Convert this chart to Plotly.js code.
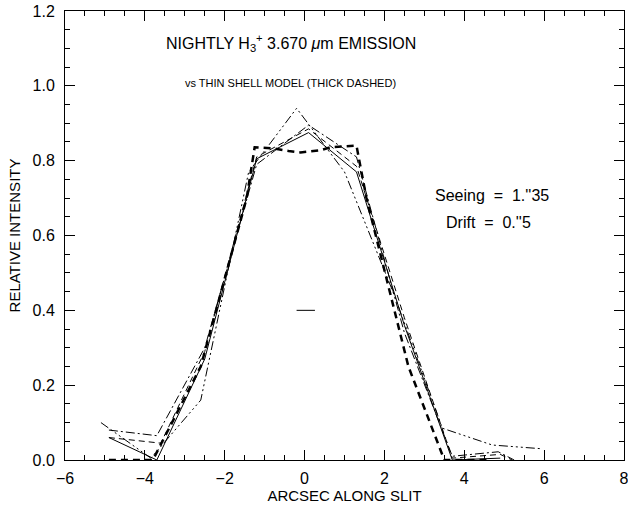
<!DOCTYPE html>
<html>
<head>
<meta charset="utf-8">
<script src="https://cdn.plot.ly/plotly-3.0.1.min.js"></script>
<style>html,body{margin:0;padding:0;background:#fff}#chart{width:628px;height:506px}</style>
</head>
<body>
<div id="chart"></div>
<script>
// Data
var xMain = [-4.9, -3.7, -2.5, -1.2, 0.1, 1.3, 2.5, 3.7, 4.9];
var solidY = [0.06, 0.0, 0.27, 0.805, 0.875, 0.77, 0.36, 0.0, 0.005];
var xDashed = [-4.9, -3.6, -2.5, -1.2, 0.1, 1.3, 2.5, 3.7, 4.9, 5.2];
var dashedY = [0.06, 0.045, 0.29, 0.81, 0.885, 0.785, 0.38, 0.005, 0.015, 0.0];
var xDashDot = [-4.9, -3.7, -2.5, -1.2, 0.1, 1.3, 2.5, 3.7, 4.85, 5.25];
var dashDotY = [0.08, 0.065, 0.30, 0.79, 0.895, 0.81, 0.34, 0.01, 0.022, 0.0];
var xDash3Dot = [-5.1, -3.85, -2.6, -1.4, -0.2, 1.0, 2.25, 3.45, 4.7, 5.95];
var dash3DotY = [0.10, 0.005, 0.16, 0.77, 0.94, 0.77, 0.44, 0.085, 0.04, 0.03];
var xModel = [-4.9, -3.8, -2.6, -1.45, -1.25, -0.8, -0.4, -0.1, 0.4, 0.65, 1.3, 1.55, 2.6, 3.5, 4.6];
var modelY = [0.0, 0.0, 0.25, 0.70, 0.836, 0.833, 0.826, 0.822, 0.828, 0.836, 0.84, 0.70, 0.25, 0.0, 0.0];
var barX = [-0.2, 0.26];
var barY = [0.40, 0.40];
var xTickVals = [-6, -4, -2, 0, 2, 4, 6, 8];
var yTickVals = [0.0, 0.2, 0.4, 0.6, 0.8, 1.0, 1.2];

var F = 'Liberation Sans, Arial, sans-serif';
var traces = [
  {x: xMain, y: solidY, mode: 'lines', line: {color: '#000', width: 1}},
  {x: xDashed, y: dashedY, mode: 'lines', line: {color: '#000', width: 1, dash: '6px,4px'}},
  {x: xDashDot, y: dashDotY, mode: 'lines', line: {color: '#000', width: 1, dash: '9px,3px,2px,3px'}},
  {x: xDash3Dot, y: dash3DotY, mode: 'lines', line: {color: '#000', width: 1, dash: '9px,3px,2px,3px,2px,3px,2px,3px'}},
  {x: xModel, y: modelY, mode: 'lines', line: {color: '#000', width: 2.5, dash: '7px,5px'}},
  {x: barX, y: barY, mode: 'lines', line: {color: '#000', width: 1}}
];

var layout = {
  width: 628, height: 506,
  margin: {l: 65, r: 4, t: 11, b: 46},
  paper_bgcolor: '#fff', plot_bgcolor: '#fff',
  showlegend: false,
  font: {family: F, size: 14, color: '#000'},
  xaxis: {
    range: [-6, 8], tickvals: xTickVals, ticks: 'inside', ticklen: 10, tickwidth: 1, tickcolor: '#000',
    minor: {dtick: 0.5, ticks: 'inside', ticklen: 5, tickcolor: '#000', showgrid: false},
    showline: true, linecolor: '#000', linewidth: 1, mirror: 'ticks', showgrid: false, zeroline: false,
    tickfont: {family: F, size: 16}, ticklabelstandoff: 4, ticklabeloverflow: 'allow',
    title: {text: 'ARCSEC ALONG SLIT', font: {family: F, size: 15}, standoff: 4}
  },
  yaxis: {
    range: [0, 1.2], tickvals: yTickVals, tickformat: '.1f', ticks: 'inside', ticklen: 10, tickwidth: 1, tickcolor: '#000',
    minor: {dtick: 0.05, ticks: 'inside', ticklen: 5, tickcolor: '#000', showgrid: false},
    showline: true, linecolor: '#000', linewidth: 1, mirror: 'ticks', showgrid: false, zeroline: false,
    tickfont: {family: F, size: 16}, ticklabelstandoff: 6, ticklabeloverflow: 'allow',
    title: {text: 'RELATIVE INTENSITY', font: {family: F, size: 15}, standoff: 8}
  },
  annotations: [
    {xref: 'x', yref: 'y', x: -0.35, y: 1.114, showarrow: false, text: 'NIGHTLY H<sub>3</sub><sup>+</sup> 3.670 <i>μ</i>m EMISSION', font: {family: F, size: 16}},
    {xref: 'x', yref: 'y', x: -0.35, y: 1.007, showarrow: false, text: 'vs THIN SHELL MODEL (THICK DASHED)', font: {family: F, size: 11}},
    {xref: 'x', yref: 'y', x: 4.7, y: 0.706, showarrow: false, text: "Seeing  =  1.''35", font: {family: F, size: 16}},
    {xref: 'x', yref: 'y', x: 4.6, y: 0.634, showarrow: false, text: "Drift  =  0.''5", font: {family: F, size: 16}}
  ]
};
Plotly.newPlot('chart', traces, layout, {displayModeBar: false, staticPlot: true});
</script>
</body>
</html>
